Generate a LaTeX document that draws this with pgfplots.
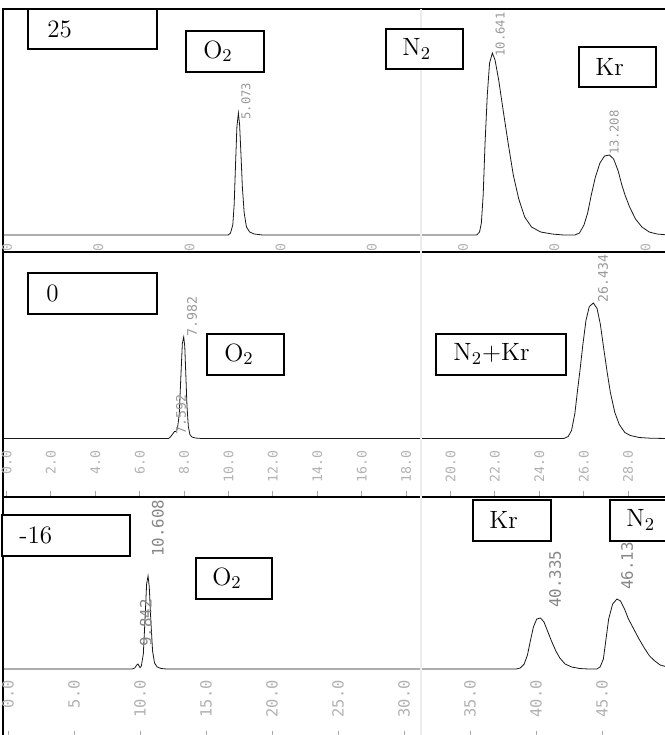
\documentclass[border=0pt]{standalone}
\usepackage{pgfplots}
\pgfplotsset{compat=1.18}
\usepackage{fontspec}
\newfontfamily\monof{DejaVu Sans Mono}
\pgfplotsset{panel/.style={scale only axis, width=332pt, anchor=north west,
  axis line style={line width=1pt, black},
  ytick=\empty, xtick pos=bottom, tick align=inside,
  major tick length=3pt, tick style={gray!70, line width=0.5pt},
  xticklabel style={rotate=90, anchor=east, inner sep=0pt, text=gray!60},
  cycle list={{black!90, line width=0.9pt, smooth, tension=0.35, mark=none}}}}
\tikzset{plabel/.style={rotate=90, anchor=west, inner sep=0pt, text=gray!80}}
\begin{document}
\begin{tikzpicture}
\useasboundingbox (0,0) rectangle (332.5pt,-367.5pt);
% ---------- panel 1 : 25
\begin{axis}[panel, at={(1.5pt,-4.25pt)}, height=121.5pt,
  xmin=-0.088, xmax=14.47, ymin=-16.5, ymax=226.5,
  xtick={0,2,4,6,8,10,12,14}, xticklabels={0.0,2.0,4.0,6.0,8.0,10.0,12.0,14.0},
  major tick length=0pt, xticklabel shift=-4.25pt,
  xticklabel style={font=\monof\fontsize{6.6}{7}\selectfont}]
\addplot coordinates {(-0.1,0) (4.85,0) (4.90,2) (4.95,10) (4.98,30) (5.01,70) (5.04,108) (5.073,122) (5.10,110) (5.13,80) (5.16,48) (5.20,22) (5.25,8) (5.32,3) (5.42,1) (5.6,0)
 (10.30,0) (10.36,3) (10.40,12) (10.44,40) (10.48,91) (10.53,140) (10.58,172) (10.641,182) (10.70,175) (10.78,155) (10.88,124) (10.99,91) (11.10,60) (11.22,36) (11.35,18) (11.50,8) (11.70,3) (11.95,1) (12.2,0)
 (12.45,0) (12.55,2) (12.65,10) (12.73,22) (12.81,40) (12.90,58) (13.00,72) (13.10,79) (13.208,80) (13.30,76) (13.40,64) (13.48,50) (13.55,40) (13.65,28) (13.78,16) (13.92,8) (14.08,3) (14.25,1) (14.5,0)};
\node[plabel, font=\monof\fontsize{6.1}{7}\selectfont] at (axis cs:5.24,115) {5.073};
\node[plabel, font=\monof\fontsize{6.1}{7}\selectfont] at (axis cs:10.81,178) {10.641};
\node[plabel, font=\monof\fontsize{6.1}{7}\selectfont] at (axis cs:13.31,80) {13.208};
\end{axis}
% ---------- panel 2 : 0
\begin{axis}[panel, at={(1.5pt,-125.75pt)}, height=122.75pt,
  axis background/.style={fill=white},
  xmin=-0.158, xmax=29.75, ymin=-58.5, ymax=187,
  xtick={0,2,4,6,8,10,12,14,16,18,20,22,24,26,28},
  xticklabels={0.0,2.0,4.0,6.0,8.0,10.0,12.0,14.0,16.0,18.0,20.0,22.0,24.0,26.0,28.0},
  xticklabel shift=-23.5pt,
  xticklabel style={font=\monof\fontsize{6.6}{7}\selectfont}]
\addplot coordinates {(-0.2,0) (7.3,0) (7.40,2) (7.50,5) (7.56,7) (7.63,7) (7.70,10) (7.78,24) (7.85,60) (7.92,95) (7.982,101.5) (8.03,92) (8.08,62) (8.13,32) (8.19,12) (8.26,4) (8.35,1.5) (8.5,0.5) (8.8,0)
 (25.1,0) (25.3,2) (25.45,8) (25.6,25) (25.72,48) (25.83,68) (25.95,92) (26.1,118) (26.25,132) (26.434,135.5) (26.6,130) (26.75,114) (26.9,90) (27.05,67) (27.2,46) (27.4,26) (27.6,14) (27.85,6) (28.1,3) (28.5,1) (29,0.3) (29.8,0)};
\node[plabel, font=\monof\fontsize{6.6}{7}\selectfont] at (axis cs:8.36,101.5) {7.982};
\node[plabel, font=\monof\fontsize{6.6}{7}\selectfont] at (axis cs:7.86,3.5) {7.592};
\node[plabel, font=\monof\fontsize{6.6}{7}\selectfont] at (axis cs:26.87,135.5) {26.434};
\end{axis}
% ---------- panel 3 : -16
\begin{axis}[panel, at={(1.5pt,-248.5pt)}, height=120.5pt,
  axis background/.style={fill=white},
  xmin=-0.38, xmax=49.92, ymin=-69, ymax=172,
  xtick={0,5,10,15,20,25,30,35,40,45},
  xticklabels={0.0,5.0,10.0,15.0,20.0,25.0,30.0,35.0,40.0,45.0},
  major tick length=3.5pt, xticklabel shift=-29pt,
  xticklabel style={font=\monof\fontsize{7.7}{8}\selectfont}]
\addplot coordinates {(-0.4,0) (9.4,0) (9.6,1) (9.75,4) (9.842,5) (9.93,3) (10.0,1.5) (10.1,3) (10.25,15) (10.38,50) (10.5,85) (10.608,93) (10.7,82) (10.82,48) (10.95,18) (11.1,6) (11.3,2) (11.6,0.5) (12,0)
 (38.5,0) (38.8,1) (39.1,5) (39.35,14) (39.55,27) (39.8,42) (40.05,50) (40.335,51) (40.6,47) (40.9,37) (41.2,27) (41.5,18) (41.8,11) (42.2,5) (42.7,2) (43.3,0.5) (44,0)
 (44.6,0) (44.85,2) (45.1,10) (45.3,30) (45.5,50) (45.8,65) (46.13,70) (46.4,68) (46.7,60) (47.0,50) (47.4,40) (47.8,30) (48.2,21) (48.6,13) (49.0,8) (49.4,4) (49.95,2)};
\node[plabel, text=gray!95, font=\monof\fontsize{7.9}{8}\selectfont] at (axis cs:11.36,112) {10.608};
\node[plabel, text=gray!95, font=\monof\fontsize{7.9}{8}\selectfont] at (axis cs:10.45,22) {9.842};
\node[plabel, text=gray!95, font=\monof\fontsize{7.9}{8}\selectfont] at (axis cs:41.44,61) {40.335};
\node[plabel, text=gray!95, font=\monof\fontsize{7.9}{8}\selectfont] at (axis cs:46.89,79) {46.135};
\end{axis}
% ---------- labelled boxes (pixel coordinates)
\begin{scope}[x=0.5pt, y=-0.5pt, every node/.style={anchor=west, inner sep=0pt, font=\fontsize{12.5}{14}\selectfont}]
\draw[gray!15, line width=1pt] (421,9) -- (421,735);
\draw[line width=1pt, fill=white] (28,8.5) rectangle (157,49);  \node at (47,29) {25};
\draw[line width=1pt, fill=white] (186,31) rectangle (264,72);  \node at (203,51) {O$_2$};
\draw[line width=1pt, fill=white] (386,29) rectangle (463,69);  \node at (402,49) {N$_2$};
\draw[line width=1pt, fill=white] (579,47) rectangle (656,87);  \node at (595,67) {Kr};
\draw[line width=1pt, fill=white] (28,273) rectangle (157,314); \node at (46,293) {0};
\draw[line width=1pt, fill=white] (207,334) rectangle (284,375);\node at (224,354) {O$_2$};
\draw[line width=1pt, fill=white] (436,334) rectangle (566,375);\node at (453,354) {N$_2$+Kr};
\draw[line width=1pt, fill=white] (2,515) rectangle (130,556);  \node at (19,535) {-16};
\draw[line width=1pt, fill=white] (196,558) rectangle (272,599);\node at (212,578) {O$_2$};
\draw[line width=1pt, fill=white] (473,500) rectangle (551,541);\node at (489,520) {Kr};
\draw[line width=1pt, fill=white] (610,500) rectangle (680,541);\node at (626,520) {N$_2$};
\end{scope}
\end{tikzpicture}
\end{document}
